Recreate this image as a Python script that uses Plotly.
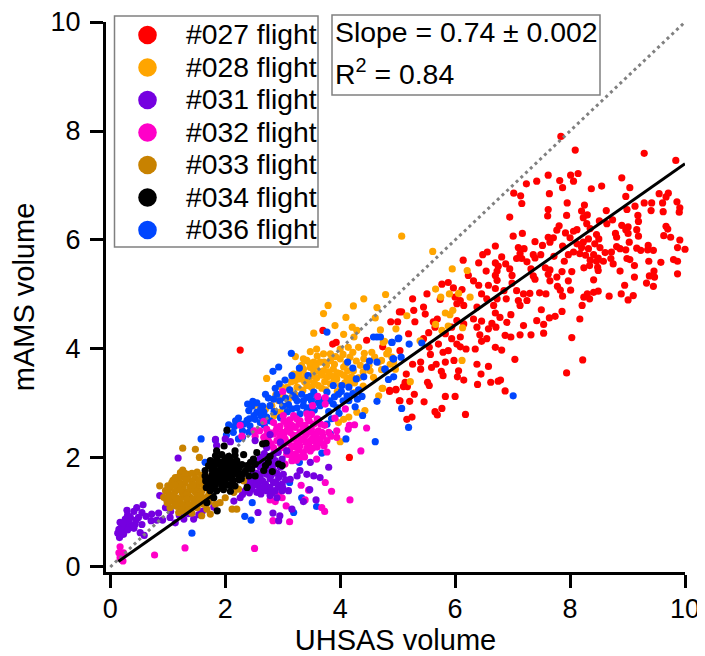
import plotly.graph_objects as go

flight_027 = [(7.84,7.90),(8.09,7.65),(9.29,7.59),(9.84,7.46),(7.62,7.19),(8.01,7.19),(8.14,7.22),(8.90,7.14),(7.24,7.03),(7.42,7.08),(7.82,7.09),(8.06,7.08),(7.87,6.96),(8.37,6.94),(8.55,6.99),(9.04,6.96),(7.02,6.86),(7.14,6.81),(7.64,6.85),(8.97,6.80),(9.55,6.85),(9.71,6.86),(9.67,6.79),(7.16,6.67),(7.95,6.68),(8.25,6.64),(9.13,6.62),(9.29,6.68),(9.42,6.68),(9.61,6.68),(9.86,6.70),(9.91,6.59),(9.41,6.54),(9.62,6.52),(9.90,6.51),(7.62,6.56),(7.61,6.44),(7.94,6.45),(8.20,6.53),(8.30,6.46),(8.23,6.41),(8.63,6.54),(8.99,6.56),(6.95,6.42),(9.18,6.45),(9.19,6.34),(8.74,6.37),(8.64,6.30),(8.51,6.35),(8.29,6.30),(7.81,6.26),(7.77,6.18),(7.92,6.13),(8.12,6.19),(8.06,6.16),(8.35,6.21),(8.90,6.27),(9.01,6.24),(8.97,6.19),(9.16,6.19),(9.67,6.25),(9.70,6.20),(8.79,6.12),(8.81,6.05),(9.01,6.12),(9.19,6.07),(9.63,6.08),(9.75,6.05),(9.91,6.00),(9.03,5.96),(7.17,6.12),(7.01,6.07),(7.62,6.05),(7.71,6.04),(7.39,5.97),(8.00,6.04),(8.46,6.10),(8.50,6.02),(8.32,6.02),(8.23,5.96),(8.12,5.93),(8.43,5.93),(7.52,5.90),(7.65,5.96),(7.87,5.89),(6.70,5.89),(8.20,5.86),(8.32,5.84),(8.52,5.86),(8.81,5.88),(8.87,5.84),(8.97,5.82),(9.16,5.85),(9.23,5.81),(9.36,5.90),(9.35,5.82),(9.45,5.81),(9.87,5.86),(10.0,5.83),(6.56,5.78),(6.48,5.73),(7.10,5.86),(7.20,5.84),(7.13,5.75),(7.36,5.73),(7.49,5.73),(7.97,5.73),(8.06,5.78),(8.17,5.75),(8.27,5.72),(8.41,5.73),(8.61,5.77),(8.72,5.78),(8.49,5.67),(6.81,5.69),(7.07,5.66),(7.16,5.66),(7.25,5.60),(7.39,5.67),(7.72,5.70),(7.90,5.61),(8.35,5.63),(8.46,5.61),(8.58,5.61),(8.71,5.66),(8.99,5.66),(9.04,5.64),(9.37,5.61),(9.80,5.64),(9.87,5.61),(9.58,5.59),(6.14,5.63),(6.41,5.58),(6.70,5.58),(6.88,5.56),(6.75,5.52),(6.95,5.47),(8.75,5.56),(9.12,5.53),(8.24,5.49),(8.34,5.53),(8.48,5.50),(8.49,5.44),(7.32,5.47),(7.57,5.49),(7.65,5.45),(7.86,5.42),(8.03,5.42),(8.87,5.43),(9.46,5.43),(9.87,5.38),(6.54,5.43),(6.73,5.43),(6.23,5.35),(6.70,5.35),(6.99,5.35),(7.62,5.37),(7.77,5.32),(7.36,5.34),(8.41,5.27),(9.12,5.32),(9.38,5.34),(9.47,5.32),(6.32,5.25),(6.73,5.26),(7.39,5.28),(7.65,5.25),(7.97,5.25),(5.77,5.19),(5.88,5.22),(5.97,5.12),(6.41,5.17),(6.58,5.17),(6.99,5.21),(7.78,5.15),(9.33,5.21),(8.95,5.17),(9.45,5.15),(6.70,5.11),(6.85,5.07),(6.12,5.09),(5.51,5.01),(8.01,5.08),(8.49,5.06),(8.41,5.04),(8.30,5.01),(6.46,5.01),(6.55,4.92),(7.07,5.07),(7.19,5.01),(7.30,5.02),(7.47,5.03),(7.58,5.01),(7.83,5.08),(7.87,4.97),(8.89,5.01),(9.10,4.98),(9.01,4.90),(8.68,4.97),(8.24,4.95),(8.34,4.92),(8.21,4.80),(5.26,4.92),(5.74,4.91),(6.00,4.95),(6.09,4.89),(6.03,4.83),(6.73,4.92),(6.89,4.92),(7.10,4.89),(7.25,4.89),(5.45,4.77),(6.15,4.80),(6.38,4.77),(6.67,4.80),(7.13,4.80),(7.50,4.72),(7.86,4.69),(5.07,4.68),(5.28,4.71),(5.48,4.64),(6.32,4.55),(6.70,4.66),(6.78,4.58),(6.97,4.63),(7.74,4.60),(7.64,4.57),(7.42,4.52),(8.17,4.55),(4.88,4.50),(5.00,4.50),(5.30,4.50),(5.62,4.50),(5.69,4.55),(6.03,4.52),(6.46,4.51),(6.90,4.49),(6.64,4.47),(7.19,4.43),(7.54,4.45),(5.65,4.40),(5.94,4.40),(6.15,4.46),(6.38,4.40),(6.58,4.37),(6.71,4.40),(5.19,4.28),(5.54,4.30),(5.83,4.28),(6.43,4.26),(6.87,4.25),(6.97,4.22),(7.13,4.26),(7.32,4.26),(7.54,4.29),(8.03,4.21),(5.45,4.19),(5.94,4.19),(6.09,4.22),(6.55,4.19),(6.46,4.14),(6.03,4.09),(5.55,4.03),(5.71,4.09),(5.88,3.97),(6.09,4.04),(6.19,4.00),(6.35,4.00),(6.70,4.03),(6.81,3.98),(5.04,3.97),(5.57,3.90),(5.79,3.94),(7.04,3.81),(8.22,3.80),(5.98,3.79),(5.67,3.72),(5.83,3.76),(5.40,3.76),(5.26,3.72),(6.38,3.72),(6.58,3.68),(5.59,3.66),(5.40,3.63),(6.06,3.60),(5.76,3.59),(5.79,3.51),(6.45,3.54),(6.04,3.49),(7.94,3.56),(5.15,3.54),(6.15,3.43),(5.52,3.39),(5.55,3.33),(6.39,3.35),(6.62,3.39),(6.75,3.41),(6.79,3.43),(5.13,3.39),(5.10,3.31),(5.17,3.31),(4.97,3.26),(4.86,3.22),(6.87,3.23),(5.29,3.17),(5.83,3.13),(6.00,3.13),(5.04,3.05),(5.21,3.04),(5.46,3.03),(5.77,2.91),(5.65,2.85),(5.69,2.79),(6.18,2.80),(5.25,2.75),(5.16,2.71),
(2.26,3.98),(3.70,4.34),(3.87,4.09),(3.93,4.12),(4.46,4.16),(4.74,4.04),(4.86,3.24),(4.97,3.25),(4.16,2.01),(5.03,3.05),(5.03,4.68)]

flight_028 = [(5.07,6.07),(5.61,5.79),(5.95,5.47),(6.21,5.44),(4.79,5.00),(5.66,5.10),(5.75,4.95),(5.90,5.01),(6.06,5.02),(6.26,4.95),(5.16,4.61),(5.83,4.66),(5.91,4.63),(5.96,4.71),(5.66,4.45),(5.77,4.34),(5.88,4.42),(6.13,4.39),(4.97,4.37),(5.39,4.15),(4.77,4.14),(6.12,3.79),(5.22,3.40),(4.74,3.28),(4.84,3.97),(4.90,3.85),(4.72,3.79),(4.87,3.72),(4.96,3.63),
(3.79,4.80),(3.71,4.65),(4.23,4.79),(4.41,4.92),(4.64,4.76),(4.10,4.58),(4.61,4.57),(3.91,4.43),(4.21,4.40),(4.29,4.34),(3.54,4.29),(4.06,4.27),(4.24,4.22),(4.70,4.35),(3.48,3.95),(3.59,4.00),(3.22,3.86),(3.71,3.91),(3.83,3.91),(4.00,4.00),(4.14,4.03),(4.32,4.03),(4.55,3.94),(4.75,4.12),(4.81,3.91),(3.42,3.79),(3.54,3.76),(3.65,3.76),(3.83,3.79),(4.00,3.82),(4.17,3.85),(4.41,3.82),(4.67,3.76),(4.93,3.76),(3.29,3.57),(2.72,3.46),(3.19,3.54),(3.36,3.63),(3.54,3.57),(3.71,3.60),(3.88,3.63),(4.06,3.67),(4.23,3.60),(4.35,3.70),(3.30,3.45),(3.45,3.42),(3.59,3.47),(3.77,3.48),(3.94,3.45),(4.12,3.47),(4.32,3.47),(3.25,3.30),(3.42,3.33),(3.62,3.33),(3.83,3.36),(4.00,3.33),(4.17,3.36),(3.13,3.24),(3.00,3.14),(2.93,3.05),(2.81,2.96),(2.61,2.94),(2.49,2.96),(4.73,3.28),(4.67,3.14),(4.43,2.87),(4.29,2.84),(4.15,2.75),(4.06,2.71),(3.97,2.65),(4.00,2.30),(2.96,2.84),
(3.36,3.82),(3.60,3.87),(3.90,3.72),(4.10,3.73),(4.28,3.78),(4.50,3.70),(3.48,3.66),(3.76,3.70),(4.00,3.55),(4.13,3.60),(3.40,3.52),(3.65,3.58),(3.86,3.50),(4.20,3.49),(3.50,3.30),(3.73,3.40),(4.08,3.38),(3.15,3.40),(2.98,3.30),(3.75,3.25),(3.95,3.22),(4.25,3.20),(3.05,2.95),(2.70,2.90),(2.85,2.78),
(3.33,3.70),(3.47,3.74),(3.58,3.68),(3.72,3.76),(3.92,3.86),(4.05,3.90),(4.22,3.94),(4.42,3.92),(4.60,3.85),(3.28,3.48),(3.38,3.40),(3.52,3.50),(3.68,3.52),(3.80,3.58),(3.95,3.56),(4.06,3.52),(4.18,3.42),(4.40,3.58),(4.52,3.60),(4.72,3.62),(3.08,3.30),(3.22,3.42),(3.35,3.24),(3.55,3.38),(3.68,3.28),(3.90,3.42),(4.25,3.38),(4.40,3.32),(3.22,3.16),(3.10,3.08),(2.88,3.16),(4.58,3.48)]

flight_036 = [(3.77,4.31),(3.15,3.92),(4.64,4.22),(4.58,4.22),(4.90,4.12),(5.01,4.19),(4.93,3.82),(4.46,3.67),(4.51,3.78),(4.64,3.76),(4.78,3.63),(4.13,3.76),(4.22,3.65),(4.28,3.45),(4.41,3.49),(2.93,3.67),(2.83,3.59),(3.29,3.65),(3.44,3.51),(3.16,3.51),(3.04,3.43),(2.94,3.36),(2.87,3.28),(3.12,3.25),(2.70,3.17),(2.75,3.10),(2.90,3.17),(2.84,3.08),(2.39,2.99),(2.48,3.04),(2.55,3.01),(2.41,2.87),(2.55,2.84),(2.67,2.84),(2.23,2.73),(2.38,2.69),(2.52,2.71),(2.06,2.61),(2.26,2.62),(2.43,2.59),(2.61,2.65),(2.14,2.47),(2.23,2.35),(1.58,2.35),(1.83,2.33),(2.41,2.47),(3.33,3.17),(3.42,3.11),(3.25,3.05),(3.54,3.21),(3.77,3.21),(3.88,3.33),(4.03,3.33),(4.15,3.30),(3.97,3.17),(4.12,3.14),(4.32,3.25),(4.38,3.13),(4.64,3.04),(4.26,2.94),(4.39,2.78),(3.88,2.99),(3.62,3.02),(3.36,2.96),(3.16,2.90),(3.30,2.81),(3.65,2.96),(2.96,2.74),(2.78,2.68),(3.77,2.62),(3.83,2.44),(4.10,2.35),(4.61,2.30),(3.68,2.09),(3.29,1.92),(3.12,1.55),(3.33,1.27),(3.19,1.00),(2.47,1.18),(2.34,0.93),(2.45,0.86),(3.59,1.11),(1.65,1.92),(1.42,0.62),
(4.90,4.12),(5.02,4.20),(5.20,4.09),(5.42,4.11),(4.92,3.82),(5.06,3.85),(4.78,3.63),(4.93,3.49),(4.84,3.44),(7.01,3.14),(5.07,2.91),(5.19,2.56),(4.70,4.22),
(3.05,3.10),(3.18,3.15),(3.50,3.05),(3.72,3.08),(3.10,2.98),(2.65,2.95),(2.50,2.78),(2.30,2.50),(3.90,3.12),(4.05,3.05),(3.45,2.92),(3.80,2.85),(2.85,2.85),(2.68,2.60),(2.02,2.42),(3.98,2.82),(3.62,2.70),
(3.22,3.10),(3.36,3.05),(3.48,3.13),(3.60,3.12),(3.70,3.02),(3.82,3.05),(4.02,3.22),(4.22,3.18),(3.00,2.95),(2.95,3.05),(2.72,2.75),(2.62,2.78),(2.46,2.95),(2.42,2.72),(2.32,2.62),(2.16,2.58),(2.30,2.38),(2.18,2.68),(3.42,2.85),(3.55,2.88),(3.25,2.92),(3.08,2.85),(3.85,2.72),(3.95,2.92),(4.15,3.05),(4.30,3.08),(2.78,2.96),(2.62,2.90)]

flight_032 = [(3.00,3.22),(3.61,3.13),(3.74,3.11),(3.52,2.96),(3.42,2.81),(3.74,2.99),(4.09,2.90),(3.91,2.73),(4.16,2.60),(4.25,2.61),(4.46,2.55),(4.14,2.53),(3.94,2.50),(3.94,2.38),(4.36,2.13),(3.77,2.11),(3.59,1.98),(2.29,2.40),(2.26,2.60),(2.50,2.50),(2.52,2.40),(2.67,2.67),(2.84,2.65),(3.01,2.78),(3.19,2.78),(3.30,2.68),(2.72,2.53),(2.90,2.56),(3.07,2.62),(3.22,2.56),(3.39,2.59),(3.54,2.62),(3.62,2.50),(2.67,2.38),(2.84,2.44),(2.99,2.47),(3.13,2.47),(3.30,2.47),(3.45,2.47),(3.54,2.44),(3.68,2.47),(3.80,2.47),(2.75,2.32),(2.90,2.32),(3.04,2.35),(3.19,2.35),(3.36,2.35),(3.51,2.35),(3.65,2.35),(3.77,2.32),(2.84,2.19),(3.01,2.19),(3.16,2.22),(3.30,2.22),(3.45,2.24),(3.59,2.26),(3.07,2.07),(3.22,2.07),(3.36,2.10),(3.48,2.13),(3.16,1.95),(3.04,1.89),
(2.95,2.58),(3.12,2.70),(3.28,2.62),(3.46,2.68),(3.60,2.72),(2.78,2.46),(2.95,2.40),(3.08,2.52),(3.25,2.41),(3.40,2.42),(3.58,2.40),(2.80,2.26),(2.96,2.26),(3.10,2.28),(3.25,2.28),(3.40,2.29),(3.55,2.31),(3.70,2.40),(2.92,2.12),(3.12,2.14),(3.28,2.15),(3.42,2.18),(3.18,2.02),(3.30,2.02),(3.12,2.50),(3.35,2.52),(3.50,2.52),
(2.88,2.50),(3.02,2.44),(3.18,2.42),(3.32,2.34),(3.47,2.31),(3.60,2.20),(3.38,2.60),(3.16,2.60),(3.02,2.68),(3.24,2.72),(2.72,2.42),(2.60,2.50),(3.06,2.30),(3.22,2.20),(3.12,2.06),(3.24,1.96),(3.38,2.02),(3.52,2.18),(3.66,2.28),(3.72,2.22),(3.44,2.72),(3.50,2.80),(3.66,2.62),(3.73,2.60),(3.84,2.40),
(3.32,1.50),(3.74,1.55),(3.85,1.39),(3.45,1.41),(4.17,1.23),(3.39,1.23),(2.78,1.23),(2.87,1.20),(2.99,1.27),(2.93,1.32),(3.06,1.12),(3.68,1.09),(3.73,1.02),(2.83,0.85),(3.12,0.83),(2.51,0.34),(1.30,0.35),(0.77,0.22),(0.17,0.37),(0.23,0.26),(0.17,0.17),(0.22,0.11),(0.15,0.26)]

flight_031 = [(0.57,1.14),(0.29,1.04),(0.46,1.09),(0.41,1.02),(0.55,1.00),(0.35,0.91),(0.49,0.91),(0.26,0.88),(0.17,0.82),(0.29,0.78),(0.43,0.78),(0.55,0.78),(0.15,0.69),(0.23,0.69),(0.41,0.71),(0.52,0.63),(0.59,0.58),(0.16,0.54),(0.23,0.60),(0.20,0.74),(0.30,0.95),(0.62,0.93),(0.72,0.97),(0.84,0.99),(0.71,0.85),(0.81,0.86),(0.91,0.86),(0.96,1.09),(1.04,0.91),(1.13,0.81),(1.28,0.88),(1.45,0.88),(1.54,0.96),(0.86,1.31),(1.18,2.00),(1.83,2.34),(2.00,2.35),(2.09,2.30),(1.85,2.23),(2.52,2.32),(2.78,2.43),(2.96,2.29),(2.72,2.19),(3.07,2.13),(2.99,1.98),(3.30,1.77),(3.48,1.92),(3.42,1.70),(3.54,1.67),(3.65,1.64),(3.25,1.67),(3.13,1.61),(3.80,1.83),(3.47,1.42),(3.58,1.23),(3.10,1.40),(3.36,1.20),(3.16,1.06),(2.57,1.00),(2.83,0.99),(2.95,0.94),(2.93,0.85),(2.15,1.21),(2.26,1.27),(2.38,1.55),(2.49,1.61),(2.61,1.67),(2.72,1.70),(2.84,1.77),(2.96,1.83),(3.01,1.70),(2.35,1.40),(2.46,1.43),(2.58,1.49),(2.70,1.52),(2.84,1.55),(2.99,1.52),(2.55,1.37),(2.72,1.40),(2.87,1.40),(2.99,1.40),(2.78,1.31),(2.90,1.27),(2.49,1.73),(2.72,1.89),(2.87,1.95),(2.61,1.83),(2.84,2.07),(2.61,2.01),(2.40,1.48),(2.55,1.58),(2.65,1.58),(2.78,1.62),(2.93,1.64),(2.50,1.50),(2.62,1.43),(2.78,1.46),(2.92,1.47),(2.75,1.80),(2.66,1.92),(2.92,2.10),(2.52,1.88),(1.05,1.02),(1.20,0.95),(1.36,0.98),(1.60,1.02),(1.80,1.10),
(2.42,1.65),(2.55,1.72),(2.66,1.76),(2.80,1.68),(2.90,1.72),(3.05,1.60),(2.60,1.60),(2.46,1.52),(2.68,1.46),(2.88,1.56),(3.00,1.45),(2.82,1.36),(2.62,1.34),(2.42,1.36),(2.30,1.33),(2.78,1.98),(2.56,1.94),(2.68,2.08),(2.82,1.85),(2.98,1.92),(0.33,0.82),(0.38,0.74),(0.22,0.80),(0.30,0.68),(0.45,0.86),(0.13,0.62)]

flight_033 = [(1.26,2.18),(1.48,2.16),(1.55,2.01),(1.26,1.78),(1.09,1.59),(0.86,1.49),(1.00,1.49),(0.96,1.40),(1.22,1.73),(1.36,1.70),(1.51,1.74),(1.13,1.64),(1.25,1.66),(1.36,1.62),(1.48,1.63),(1.59,1.68),(1.07,1.55),(1.19,1.57),(1.30,1.54),(1.42,1.56),(1.54,1.55),(1.65,1.58),(1.04,1.46),(1.16,1.48),(1.27,1.45),(1.39,1.47),(1.51,1.46),(1.62,1.49),(1.01,1.37),(1.13,1.39),(1.25,1.36),(1.36,1.38),(1.48,1.37),(1.59,1.39),(0.93,1.28),(1.04,1.30),(1.16,1.27),(1.27,1.29),(1.39,1.28),(1.51,1.30),(1.62,1.27),(0.99,1.18),(1.10,1.20),(1.22,1.17),(1.33,1.19),(1.45,1.18),(1.57,1.20),(1.04,1.09),(1.16,1.11),(1.27,1.08),(1.39,1.10),(1.51,1.09),(1.19,1.00),(1.30,1.02),(1.42,0.99),(1.10,1.33),(1.21,1.42),(1.33,1.33),(1.45,1.42),(1.57,1.32),(1.08,1.24),(1.20,1.23),(1.33,1.24),(1.45,1.24),(1.55,1.25),(1.13,1.14),(1.25,1.13),(1.36,1.14),(1.48,1.13),(1.24,1.05),(1.36,1.05),(1.20,1.52),(1.31,1.60),(1.44,1.51),(1.59,0.94),(1.74,0.97),(1.83,1.15),(1.91,1.18),(2.00,1.27),(2.15,1.37),(2.23,1.43),(2.32,1.58),(2.12,1.06),(2.20,1.06),(1.68,1.06),(1.62,1.15),
(1.70,1.30),(1.72,1.20),(1.55,1.60),(1.68,1.48),(1.72,1.38),(1.02,1.20),(0.97,1.25),(1.12,1.50),(1.65,1.68),(1.42,1.72),(1.30,1.72),(1.18,1.65)]

flight_034 = [(2.03,2.51),(1.98,2.22),(2.65,2.26),(2.71,2.27),(1.85,2.13),(2.17,2.13),(2.32,2.06),(2.55,2.10),(2.49,1.98),(2.78,2.03),(2.93,1.89),(2.99,1.86),(2.82,1.75),(2.67,1.77),(2.70,1.86),(2.75,1.92),(2.52,1.89),(2.46,1.80),(2.41,1.67),(2.52,1.67),(2.38,1.46),(1.86,1.03),(1.68,1.18),(1.80,1.27),(1.74,1.40),(1.67,1.46),
(1.83,2.04),(1.94,2.06),(2.06,2.03),(2.17,2.05),(1.74,1.95),(1.86,1.97),(1.97,1.94),(2.09,1.96),(2.20,1.95),(1.71,1.86),(1.83,1.88),(1.94,1.85),(2.06,1.87),(2.17,1.86),(2.29,1.88),(1.65,1.77),(1.77,1.79),(1.88,1.76),(2.00,1.78),(2.12,1.77),(2.23,1.79),(2.35,1.76),(1.65,1.67),(1.77,1.69),(1.88,1.66),(2.00,1.68),(2.12,1.67),(2.23,1.69),(1.66,1.58),(1.77,1.60),(1.89,1.57),(2.00,1.59),(2.13,1.58),(2.24,1.60),(1.71,1.49),(1.83,1.51),(1.94,1.48),(2.06,1.50),(2.17,1.49),(1.85,1.40),(1.97,1.42),(2.09,1.39),(1.77,1.54),(1.91,1.62),(2.05,1.72),(2.16,1.82),(1.90,1.92),(2.02,2.00),
(1.80,1.72),(1.72,1.62),(1.94,1.72),(2.07,1.63),(2.18,1.72),(2.30,1.70),(1.80,1.82),(1.92,1.80),(2.10,1.82),(2.25,1.84),(1.78,1.92),(2.00,1.90),(2.14,1.92),(2.12,1.50),(2.28,1.62),(1.84,1.62),(1.96,1.53),(1.78,1.45),(2.44,1.92),(2.38,1.86)]

fit_x = [0.14, 10]
fit_y = [0.10, 7.40]
unity_x = [0, 10]
unity_y = [0, 10]

legend_names = ["#027 flight", "#028 flight", "#031 flight", "#032 flight", "#033 flight", "#034 flight", "#036 flight"]
colors = {"#027 flight": "#FF0000", "#028 flight": "#FFA500", "#031 flight": "#7500E0", "#032 flight": "#FF00C8",
          "#033 flight": "#C88200", "#034 flight": "#000000", "#036 flight": "#0046FF"}
tick_vals = [0, 2, 4, 6, 8, 10]
slope_text = "Slope = 0.74 ± 0.002"
r2_text = "R<sup>2</sup> = 0.84"

# The page adds an 8 px margin around the figure, so page-pixel targets are offset by it.
OFF = 8
W, H = 705 - OFF, 656 - OFF
L, T = 106 - OFF, 22 - OFF
R = W - (685 - OFF)
B = H - (572 - OFF)
FONT = "Liberation Sans"

def px(x):
    return (x - OFF - L) / (W - L - R)

def py(y):
    return 1 - (y - OFF - T) / (H - T - B)

fig = go.Figure()

def scatter(name, pts):
    fig.add_trace(go.Scatter(x=[p[0] for p in pts], y=[p[1] for p in pts], mode="markers", name=name,
                             marker=dict(color=colors[name], size=7.2, line=dict(width=0)),
                             showlegend=False, cliponaxis=False))

scatter("#027 flight", flight_027)
scatter("#028 flight", flight_028)
scatter("#036 flight", flight_036)
scatter("#032 flight", flight_032)
scatter("#031 flight", flight_031)
fig.add_trace(go.Scatter(x=unity_x, y=unity_y, mode="lines", name="1:1", showlegend=False, cliponaxis=False,
                         line=dict(color="#808080", width=3, dash="3px,3.5px")))
scatter("#033 flight", flight_033)
scatter("#034 flight", flight_034)
fig.add_trace(go.Scatter(x=fit_x, y=fit_y, mode="lines", name="fit", showlegend=False, cliponaxis=False,
                         line=dict(color="#000000", width=3)))

shapes = [
    dict(type="rect", xref="paper", yref="paper", x0=px(114.5), x1=px(318), y0=py(247), y1=py(16),
         line=dict(color="#808080", width=1.5), fillcolor="white", layer="above"),
    dict(type="rect", xref="paper", yref="paper", x0=px(332), x1=px(600), y0=py(95), y1=py(15),
         line=dict(color="#808080", width=1.5), fillcolor="white", layer="above"),
]
annotations = []
row_y = [34.5, 67, 99.5, 132, 164.5, 197, 229.5]
for name, yy in zip(legend_names, row_y):
    shapes.append(dict(type="circle", xref="paper", yref="paper", x0=px(147.5 - 9.3), x1=px(147.5 + 9.3),
                       y0=py(yy + 9.8), y1=py(yy - 8.8), line=dict(width=0), fillcolor=colors[name], layer="above"))
    annotations.append(dict(text=name, xref="paper", yref="paper", x=px(183.5), y=py(yy), xanchor="left", yanchor="middle",
                            showarrow=False, font=dict(family=FONT, size=28.3, color="black")))
annotations.append(dict(text=slope_text, xref="paper", yref="paper", x=px(333), y=py(32.5), xanchor="left", yanchor="middle",
                        showarrow=False, font=dict(family=FONT, size=28.4, color="black")))
annotations.append(dict(text=r2_text, xref="paper", yref="paper", x=px(333), y=py(72), xanchor="left", yanchor="middle",
                        showarrow=False, font=dict(family=FONT, size=28.4, color="black")))

axis = dict(showgrid=False, zeroline=False, showline=True, linecolor="black", linewidth=3, ticks="outside",
            ticklen=13, tickwidth=3, tickcolor="black", tickmode="array", tickvals=tick_vals, automargin=False,
            ticklabeloverflow="allow",
            ticktext=[str(v) for v in tick_vals], tickfont=dict(family=FONT, size=27, color="black"))

fig.update_layout(
    width=W, height=H, autosize=False, margin=dict(l=L, r=R, t=T, b=B), paper_bgcolor="white", plot_bgcolor="white",
    showlegend=False, shapes=shapes, annotations=annotations, font=dict(family=FONT),
    xaxis=dict(axis, range=[-0.075, 10], ticklabelstandoff=-2,
               title=dict(text="UHSAS volume", font=dict(family=FONT, size=29, color="black"), standoff=9)),
    yaxis=dict(axis, range=[-0.092, 10], ticklabelstandoff=4,
               title=dict(text="mAMS volume", font=dict(family=FONT, size=29, color="black"), standoff=9)),
)
fig.write_html("out.html")
